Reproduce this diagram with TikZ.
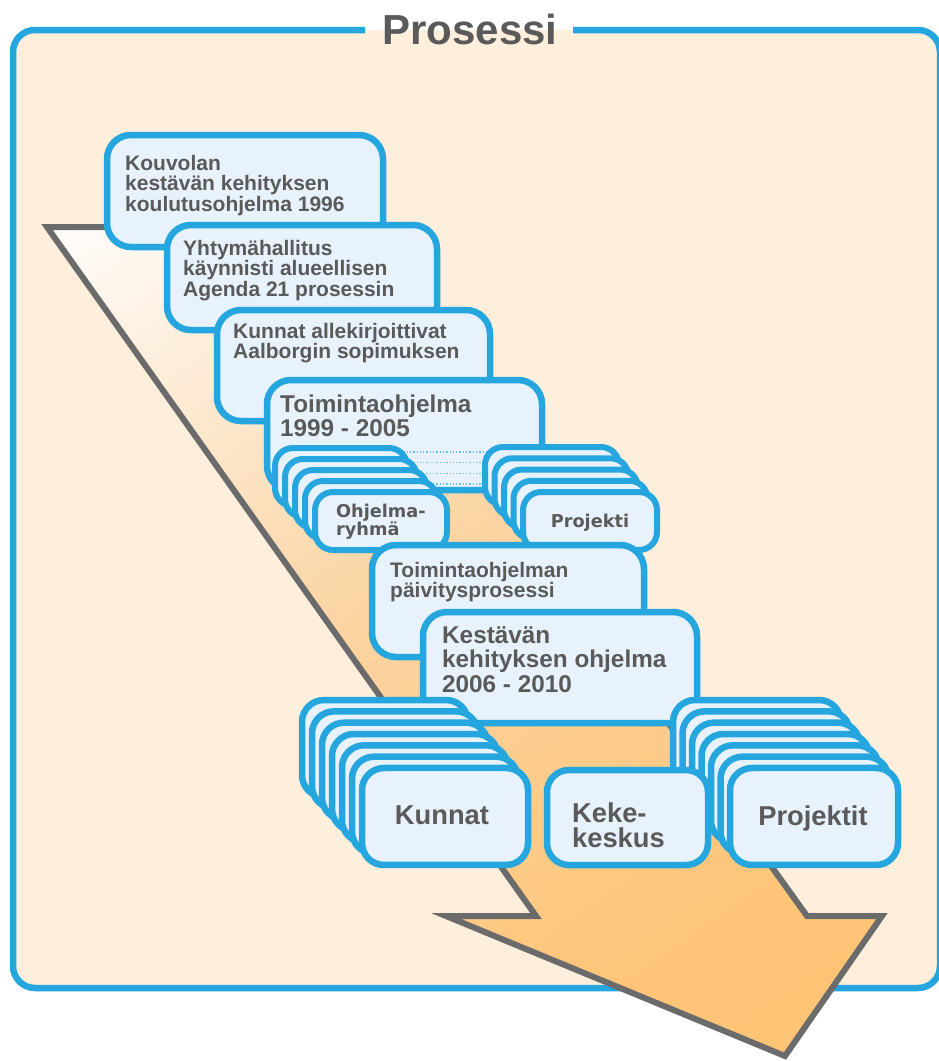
\documentclass[tikz,border=0pt]{standalone}
\usepackage{fontspec}
\setmainfont{Liberation Sans}
\newfontfamily\djv{DejaVu Sans}
\definecolor{bblue}{HTML}{26A6DE}
\definecolor{bfill}{HTML}{E8F2FC}
\definecolor{tgray}{HTML}{5A5A5A}
\definecolor{agray}{HTML}{6B6B6B}
\definecolor{peach}{HTML}{FEEEDC}
\definecolor{oa}{HTML}{FEBF68}
\definecolor{ob}{HTML}{FEC67C}
\definecolor{oc}{HTML}{FBD4A2}
\definecolor{od}{HTML}{FDEBD5}
\definecolor{dotblue}{HTML}{6CBDE6}
\pgfdeclareverticalshading{arrowsh}{100bp}{color(0bp)=(oa); color(30bp)=(ob); color(55bp)=(oc); color(72bp)=(od); color(86bp)=(white); color(100bp)=(white)}
\tikzset{
  bigbox/.style={draw=bblue, fill=bfill, line width=6.5pt, rounded corners=24pt, inner sep=0pt},
  smallbox/.style={draw=bblue, fill=bfill, line width=6pt, rounded corners=18pt, inner sep=0pt, minimum width=132pt, minimum height=58pt},
  midbox/.style={draw=bblue, fill=bfill, line width=6.5pt, rounded corners=22pt, inner sep=0pt, minimum height=97pt},
  btext/.style={text=tgray, inner sep=0pt, anchor=north west, align=left, font=\bfseries\fontsize{21}{20.75}\selectfont},
  ltext/.style={text=tgray, inner sep=0pt, anchor=north west, align=left, font=\bfseries\fontsize{24.3}{24}\selectfont},
  stext/.style={text=tgray, inner sep=0pt, font=\djv\bfseries\fontsize{17.7}{18}\selectfont},
  htext/.style={text=tgray, inner sep=0pt, font=\bfseries\fontsize{27.3}{25}\selectfont},
  dotline/.style={draw=dotblue, line width=1.3pt, dotted},
  frameline/.style={draw=bblue, line width=6.5pt, rounded corners=22pt},
  arrowshape/.style={draw=agray, line width=6pt, line join=miter, shading=arrowsh, shading angle=35}
}
\begin{document}
\begin{tikzpicture}[x=1pt,y=-1pt]
\useasboundingbox (0,0) rectangle (939,1061);
% frame
\fill[peach, rounded corners=22pt] (13,30) rectangle (940,988);
\draw[frameline] (573,30) -- (940,30) -- (940,988) -- (13,988) -- (13,30) -- (365,30);
\node[text=tgray, inner sep=0pt, anchor=base, font=\bfseries\fontsize{42}{42}\selectfont] (title) at (470,44) {Prosessi};
% big arrow
\path[arrowshape] (47,227) -- (312,227) -- (807,916) -- (882,916) -- (785,1056) -- (446,916) -- (536,916) -- cycle;
% sequence boxes
\node[bigbox, minimum width=276pt, minimum height=112pt] (b1) at (245,191) {};
\node[btext] (t1) at (125,154) {\rule{0pt}{16pt}Kouvolan\\kestävän kehityksen\\koulutusohjelma 1996};
\node[bigbox, minimum width=270pt, minimum height=105pt] (b2) at (302,277.5) {};
\node[btext] (t2) at (183,239) {\rule{0pt}{16pt}Yhtymähallitus\\käynnisti alueellisen\\Agenda 21 prosessin};
\node[bigbox, minimum width=273pt, minimum height=111pt] (b3) at (353.5,365.5) {};
\node[btext] (t3) at (233,322) {\rule{0pt}{16pt}Kunnat allekirjoittivat\\Aalborgin sopimuksen};
\node[bigbox, minimum width=275pt, minimum height=110pt] (b4) at (404.5,435) {};
\node[ltext] (t4) at (280,393) {\rule{0pt}{19pt}Toimintaohjelma\\1999 - 2005};
% dotted links between the two small stacks
\foreach \i in {0,...,3}{
  \coordinate (da\i) at (400,{452+10.7*\i});
  \coordinate (db\i) at (500,{452+10.7*\i});
  \draw[dotline] (da\i) -- (db\i);
}
% Ohjelmaryhma stack
\foreach \i in {0,...,4}{
  \node[smallbox] (o\i) at ({341+10*\i},{477+11*\i}) {};
}
\node[stext, anchor=north west, align=left] (to) at (336,503) {\rule{0pt}{14pt}Ohjelma-\\ryhmä};
% Projekti stack
\foreach \i in {0,...,4}{
  \node[smallbox, minimum width=134pt] (p\i) at ({552+9.5*\i},{476+11.25*\i}) {};
}
\node[stext, anchor=base] (tp) at (590,527) {Projekti};
% update process and new programme
\node[bigbox, minimum width=272pt, minimum height=112pt] (b5) at (508,601) {};
\node[btext] (t5) at (390,561) {\rule{0pt}{16pt}Toimintaohjelman\\päivitysprosessi};
\node[bigbox, minimum width=274pt, minimum height=111pt] (b6) at (560,667.5) {};
\node[ltext, font=\bfseries\fontsize{24.3}{24.5}\selectfont] (t6) at (442,624) {\rule{0pt}{19pt}Kestävän\\kehityksen ohjelma\\2006 - 2010};
% Kunnat stack
\foreach \i in {0,...,6}{
  \node[midbox, minimum width=166pt] (k\i) at ({385+10*\i},{748.5+11.33*\i}) {};
}
\node[htext, anchor=base] (tk) at (442,824) {Kunnat};
% Projektit stack
\foreach \i in {0,...,6}{
  \node[midbox, minimum width=168pt] (q\i) at ({757+9.5*\i},{748.5+11.33*\i}) {};
}
\node[htext, anchor=base] (tq) at (813,825) {Projektit};
% Keke-keskus
\node[midbox, minimum width=161pt, minimum height=95pt] (kk) at (627.5,817.5) {};
\node[htext, anchor=north west, align=left] (tkk) at (572,801) {\rule{0pt}{21pt}Keke-\\keskus};
\end{tikzpicture}
\end{document}
